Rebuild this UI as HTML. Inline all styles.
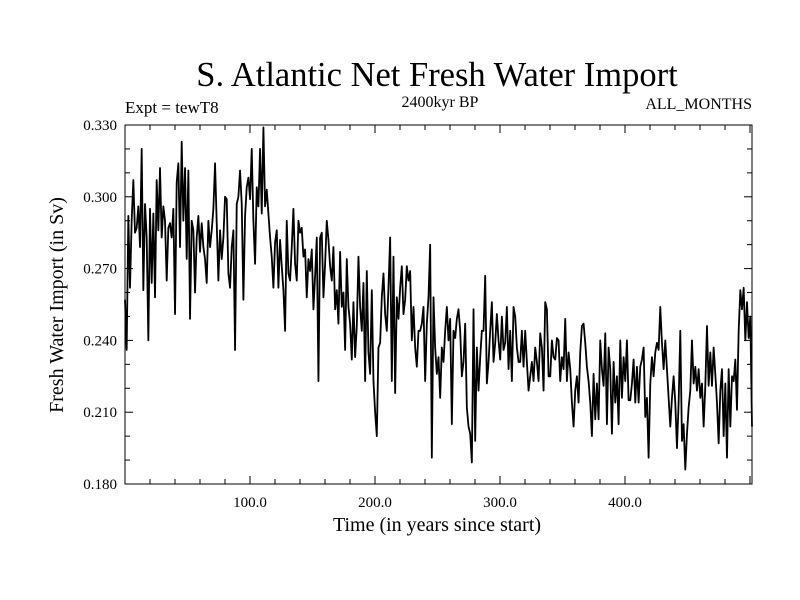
<!DOCTYPE html>
<html><head><meta charset="utf-8"><style>
body{margin:0;background:#fff;}
svg{display:block;font-family:"Liberation Serif",serif;}
</style></head><body>
<svg id="chart" width="800" height="600" viewBox="0 0 800 600">
<rect x="0" y="0" width="800" height="600" fill="#fff"/>
<text x="437" y="86" font-size="34.5" text-anchor="middle">S. Atlantic Net Fresh Water Import</text>
<text x="440" y="107" font-size="16" text-anchor="middle">2400kyr BP</text>
<text x="125" y="113" font-size="17">Expt = tewT8</text>
<text x="752" y="109" font-size="16" text-anchor="end">ALL_MONTHS</text>
<text x="437" y="531" font-size="20" text-anchor="middle">Time (in years since start)</text>
<text transform="translate(63,305) rotate(-90)" font-size="20" text-anchor="middle">Fresh Water Import (in Sv)</text>
<g id="ticks"></g>
<g id="series"></g>
<rect x="125" y="125" width="627" height="359" fill="none" stroke="#000" stroke-width="1"/>
</svg>
<script>
const xTickValues=[100,200,300,400];
const xTickLabels=["100.0","200.0","300.0","400.0"];
const yTickValues=[0.180,0.210,0.240,0.270,0.300,0.330];
const yTickLabels=["0.180","0.210","0.240","0.270","0.300","0.330"];
const fwImport=[
.257,.236,.292,.262,.290,.307,.285,.287,.296,.279,.320,.261,.297,.283,.240,.295,.264,.293,.258,.307,.286,.312,.283,.296,.290,.265,.287,.289,.283,.295,.251,.306,.314,.279,.323,.290,.312,.274,.311,.249,.290,.286,.260,.283,.292,.277,.289,.279,.274,.264,.290,.279,.286,.295,.314,.289,.265,.286,.274,.283,.300,.299,.268,.262,.279,.286,.236,.297,.300,.311,.297,.257,.292,.304,.308,.299,.320,.290,.272,.304,.296,.320,.293,.329,.296,
.303,.293,.283,.275,.262,.281,.286,.262,.282,.271,.261,.244,.290,.268,.265,.279,.295,.272,.265,.290,.285,.287,.275,.278,.258,.274,.269,.278,.253,.267,.283,.223,.283,.285,.258,.272,.290,.282,.271,.265,.279,.253,.261,.247,.277,.254,.260,.236,.274,.254,.247,.232,.256,.233,.246,.275,.254,.244,.264,.223,.269,.235,.226,.261,.223,.210,.200,.237,.239,.258,.268,.251,.244,.262,.283,.223,.275,.218,.258,.249,.262,.271,.251,.257,.271,.265,.269,.240,.254,.237,
.229,.244,.244,.247,.254,.223,.247,.258,.280,.191,.258,.237,.226,.233,.216,.237,.231,.244,.254,.240,.249,.205,.244,.241,.249,.253,.244,.225,.231,.247,.212,.204,.201,.189,.253,.198,.237,.219,.233,.244,.244,.267,.222,.231,.244,.256,.231,.239,.251,.240,.232,.250,.236,.239,.254,.228,.244,.223,.254,.250,.237,.231,.231,.244,.229,.244,.231,.219,.225,.231,.223,.237,.231,.223,.243,.237,.219,.256,.253,.225,.225,.240,.233,.232,.241,.240,.223,.233,.228,.249,.223,.235,.228,.214,.204,.219,
.225,.214,.235,.246,.247,.239,.229,.223,.214,.200,.226,.207,.222,.207,.240,.228,.221,.243,.205,.237,.228,.201,.231,.214,.225,.205,.240,.216,.233,.223,.240,.215,.215,.222,.232,.214,.229,.214,.229,.232,.237,.208,.216,.191,.222,.233,.225,.235,.239,.236,.254,.239,.228,.240,.228,.216,.204,.216,.225,.214,.195,.214,.244,.198,.205,.186,.201,.212,.219,.240,.222,.229,.219,.228,.216,.222,.204,.221,.246,.221,.235,.221,.237,.226,.214,.197,.219,.228,.200,.222,.191,.228,.204,.225,.223,.232,.211,.244,.261,.253,.262,.240,.256,.241,.250,.204
];
const xMin=0,xMax=501.6,yMin=0.180,yMax=0.330;
const L=125,R=752,T=125,B=484;
function xs(v){return L+(v-xMin)/(xMax-xMin)*(R-L);}
function ys(v){return B-(v-yMin)/(yMax-yMin)*(B-T);}
const NS="http://www.w3.org/2000/svg";
const tg=document.getElementById('ticks');
function line(x1,y1,x2,y2,name){
  const l=document.createElementNS(NS,'line');
  l.setAttribute('x1',x1);l.setAttribute('y1',y1);l.setAttribute('x2',x2);l.setAttribute('y2',y2);
  l.setAttribute('stroke','#000');l.setAttribute('stroke-width','1');
  
  
  tg.appendChild(l);
}
function txt(x,y,s,anchor,name){
  const t=document.createElementNS(NS,'text');
  t.setAttribute('x',x);t.setAttribute('y',y);t.setAttribute('font-size','15');t.setAttribute('text-anchor',anchor);
  t.textContent=s;
  
  
  tg.appendChild(t);
}
for(let v=20;v<xMax;v+=20){
  const x=xs(v);const major=(v%100===0);const len=major?8:5;
  line(x,B,x,B-len,'x-tick');
  line(x,T,x,T+len,'x-tick-top');
}
for(let k=1;k<15;k++){
  const v=yMin+k*0.01;const y=ys(v);const major=(k%3===0);const len=major?8:5;
  line(L,y,L+len,y,'y-tick');
  line(R,y,R-len,y,'y-tick-right');
}
xTickValues.forEach((v,i)=>txt(xs(v),507,xTickLabels[i],'middle','x-tick-label'));
yTickValues.forEach((v,i)=>txt(117,ys(v)+5,yTickLabels[i],'end','y-tick-label'));
const n=fwImport.length;
const years=fwImport.map((_,i)=>xMin+i*(xMax-xMin)/(n-1));
let d='';
fwImport.forEach((v,i)=>{d+=(i?'L':'M')+xs(years[i]).toFixed(2)+','+ys(v).toFixed(2);});
const p=document.createElementNS(NS,'path');
p.setAttribute('d',d);p.setAttribute('fill','none');p.setAttribute('stroke','#000');p.setAttribute('stroke-width','1.8');p.setAttribute('stroke-linejoin','round');


document.getElementById('series').appendChild(p);
</script>
</body></html>
